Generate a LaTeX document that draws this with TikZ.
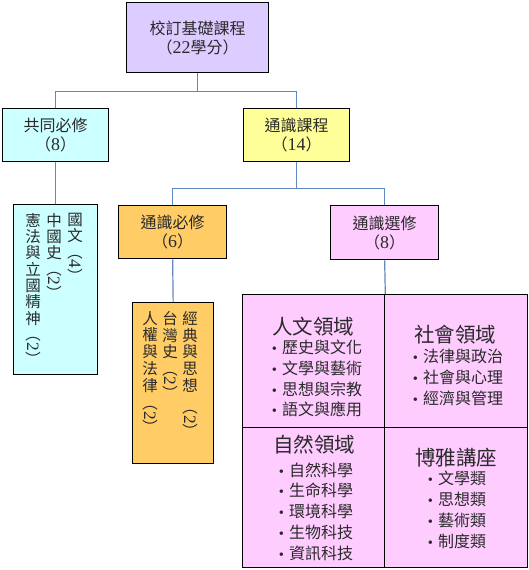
\documentclass[tikz,border=0pt]{standalone}
\usepackage{fontspec}
\usepackage{graphicx}
\setmainfont{Noto Sans CJK TC}
\newfontfamily\lat[Scale=1.12]{Liberation Serif}
\definecolor{cpurple}{HTML}{DDCCFF}
\definecolor{ccyan}{HTML}{CCFFFF}
\definecolor{cyellow}{HTML}{FFFF99}
\definecolor{corange}{HTML}{FFCC66}
\definecolor{cpink}{HTML}{FFCCFF}
\definecolor{clink}{HTML}{5F87C0}
\definecolor{txt}{HTML}{2A2A2A}
\newcommand{\rp}[1]{\raisebox{0.88em}{\rotatebox{-90}{（{\lat #1}）}}}
\newcommand{\bul}{{\lat\fontsize{13}{13}\selectfont •}\hspace{5pt}}
\tikzset{
  box/.style={draw=black, line width=1.3pt, inner sep=0pt, align=center, text=txt, anchor=north west,
    font=\fontsize{16}{19}\selectfont},
  cell/.style={draw=black, line width=1.3pt, fill=cpink, inner sep=0pt, anchor=north west},
  conn/.style={draw=clink, line width=1.2pt},
  vtext/.style={anchor=north, inner sep=0pt, align=center, text=txt, font=\fontsize{15.5}{16.3}\selectfont},
  vtextb/.style={vtext, font=\fontsize{15.5}{16.8}\selectfont},
  head/.style={inner sep=0pt, text=txt, font=\fontsize{20.5}{22}\selectfont},
  items/.style={inner sep=0pt, text=txt, align=left, font=\fontsize{16}{20.8}\selectfont}
}
\begin{document}
\begin{tikzpicture}[x=1pt,y=-1pt]
\useasboundingbox (0,0) rectangle (528,570);
% boxes
\node[box, fill=cpurple, minimum width=142pt, minimum height=70pt] (top) at (126,2) {校訂基礎課程\\（{\lat 22}學分）};
\node[box, fill=ccyan, minimum width=106pt, minimum height=53pt] (jt) at (2,108) {共同必修\\（{\lat 8}）};
\node[box, fill=cyellow, minimum width=106pt, minimum height=53pt] (ts) at (243,108) {通識課程\\（{\lat 14}）};
\node[box, fill=corange, minimum width=108pt, minimum height=53pt] (tb) at (118,205) {通識必修\\（{\lat 6}）};
\node[box, fill=cpink, minimum width=108pt, minimum height=54pt] (tx) at (330,205) {通識選修\\（{\lat 8}）};
\node[box, fill=ccyan, minimum width=84pt, minimum height=170pt] (jtc) at (13,204) {};
\node[box, fill=corange, minimum width=81pt, minimum height=161pt] (tbc) at (132,302) {};
% grid cells
\node[cell, minimum width=142pt, minimum height=133pt] (c1) at (242,294) {};
\node[cell, minimum width=143pt, minimum height=133pt] (c2) at (384,294) {};
\node[cell, minimum width=142pt, minimum height=140pt] (c3) at (242,427) {};
\node[cell, minimum width=143pt, minimum height=140pt] (c4) at (384,427) {};
% connectors
\path (top.south) ++(0,18) coordinate (j1);
\draw[conn] (top.south) -- (j1);
\draw[conn] (jt.north) |- (j1) -| (ts.north);
\path (ts.south) ++(0,26) coordinate (j2);
\draw[conn] (ts.south) -- (j2);
\draw[conn] (tb.north) |- (j2) -| (tx.north);
\draw[conn] (jt.south) -- (jtc.north);
\draw[conn] (tb.south) -- (tbc.north);
\draw[conn] (tx.south) -- (c1.north east);
% vertical texts
\node[vtext] (v1) at (75,213) {國\\文\\\rp{4}};
\node[vtext] (v2) at (54,213) {中\\國\\史\\\rp{2}};
\node[vtext] (v3) at (33,213) {憲\\法\\與\\立\\國\\精\\神\\\rp{2}};
\node[vtextb] (w1) at (190,311) {經\\典\\與\\思\\想\\[5pt]\rp{2}};
\node[vtextb] (w2) at (170,311) {台\\灣\\史\\\rp{2}};
\node[vtextb] (w3) at (150,311) {人\\權\\與\\法\\律\\[1pt]\rp{2}};
% grid contents
\node[head] (h1) at (313,327) {人文領域};
\node[items] (i1) at (317,378.5) {\bul 歷史與文化\\\bul 文學與藝術\\\bul 思想與宗教\\\bul 語文與應用};
\node[head] (h2) at (455,335) {社會領域};
\node[items] (i2) at (458,377.5) {\bul 法律與政治\\\bul 社會與心理\\\bul 經濟與管理};
\node[head] (h3) at (314,445) {自然領域};
\node[items] (i3) at (316,511.5) {\bul 自然科學\\\bul 生命科學\\\bul 環境科學\\\bul 生物科技\\\bul 資訊科技};
\node[head] (h4) at (456,458) {博雅講座};
\node[items] (i4) at (457,510) {\bul 文學類\\\bul 思想類\\\bul 藝術類\\\bul 制度類};
\end{tikzpicture}
\end{document}
